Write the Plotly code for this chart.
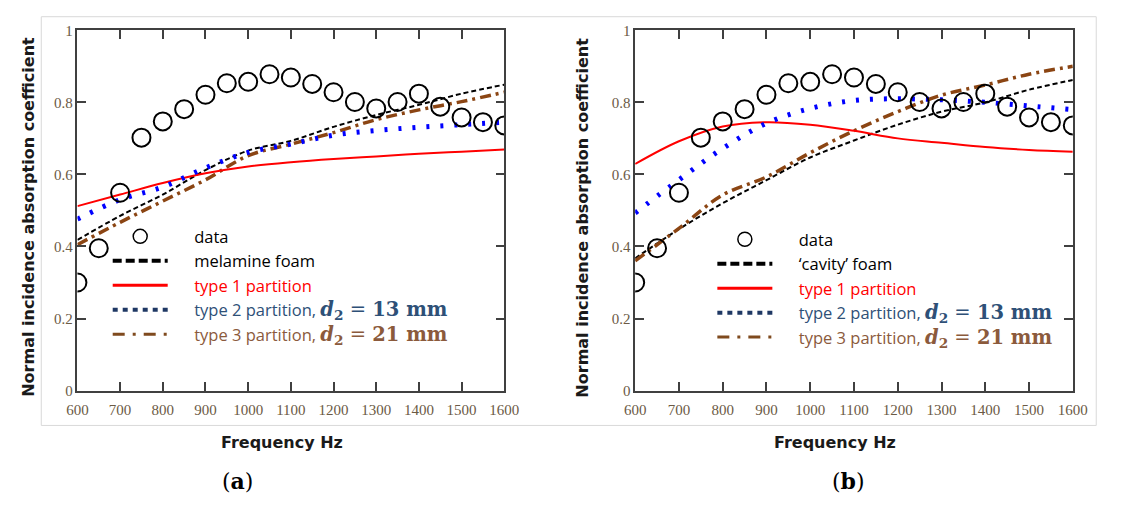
import plotly.graph_objects as go

W, H = 1121, 509

# measured data (both panels)
freq_data = [600, 650, 700, 750, 800, 850, 900, 950, 1000, 1050, 1100,
             1150, 1200, 1250, 1300, 1350, 1400, 1450, 1500, 1550, 1600]
alpha_data = [0.30, 0.395, 0.549, 0.702, 0.747, 0.781, 0.821, 0.853, 0.857, 0.878, 0.869,
              0.851, 0.828, 0.801, 0.783, 0.801, 0.824, 0.788, 0.758, 0.745, 0.736]

# model curves
freq_model = [600, 700, 800, 900, 1000, 1100, 1200, 1300, 1400, 1500, 1600]

a_foam = [0.418, 0.485, 0.544, 0.612, 0.666, 0.693, 0.732, 0.765, 0.793, 0.824, 0.849]
a_type1 = [0.512, 0.544, 0.576, 0.603, 0.622, 0.634, 0.643, 0.650, 0.657, 0.663, 0.669]
a_type2 = [0.476, 0.530, 0.565, 0.618, 0.661, 0.684, 0.709, 0.722, 0.731, 0.738, 0.745]
a_type3 = [0.405, 0.467, 0.526, 0.585, 0.652, 0.684, 0.716, 0.752, 0.779, 0.802, 0.828]

b_foam = [0.367, 0.448, 0.520, 0.584, 0.647, 0.694, 0.738, 0.774, 0.800, 0.835, 0.862]
b_type1 = [0.629, 0.692, 0.733, 0.745, 0.738, 0.721, 0.700, 0.688, 0.676, 0.668, 0.663]
b_type2 = [0.493, 0.585, 0.672, 0.742, 0.783, 0.805, 0.810, 0.807, 0.800, 0.790, 0.780]
b_type3 = [0.360, 0.450, 0.543, 0.593, 0.660, 0.721, 0.774, 0.820, 0.848, 0.878, 0.900]

x_ticks = [600, 700, 800, 900, 1000, 1100, 1200, 1300, 1400, 1500, 1600]
y_ticks = [0, 0.2, 0.4, 0.6, 0.8, 1]
y_ticktext = ["0", "0.2", "0.4", "0.6", "0.8", "1"]

labels_a = ["data", "melamine foam", "type 1 partition",
            "type 2 partition, ", "type 3 partition, "]
labels_b = ["data", "\u2018cavity\u2019 foam", "type 1 partition",
            "type 2 partition, ", "type 3 partition, "]
d2_values = ["13 mm", "21 mm"]

RED = "#ff0000"
BLUE = "#0000ff"
BROWN = "#8b4513"
NAVY_TXT = "#2e5077"
BROWN_TXT = "#8b5a3c"
LEG_NAVY = "#1f3864"
LEG_BROWN = "#7f4a1e"
PAD = "\u00a0" * 5


def math_part(val):
    return ("<span style=\"font-family:'DejaVu Serif';font-size:19.5px\"><b><i>d</i></b><b><sub>2</sub></b>"
            " = <b>" + val + "</b></span>")


fig = go.Figure()

panels = [
    ("x", "y", "legend", labels_a, a_foam, a_type1, a_type2, a_type3),
    ("x2", "y2", "legend2", labels_b, b_foam, b_type1, b_type2, b_type3),
]

for xa, ya, leg, labels, foam, t1, t2, t3 in panels:
    fig.add_trace(go.Scatter(x=freq_model, y=foam, mode="lines", xaxis=xa, yaxis=ya,
                             line=dict(color="black", width=2, dash="5px,3px", shape="spline"),
                             showlegend=False))
    fig.add_trace(go.Scatter(x=freq_model, y=t3, mode="lines", xaxis=xa, yaxis=ya,
                             line=dict(color=BROWN, width=3.5, dash="11px,5px,3px,5px", shape="spline"),
                             showlegend=False))
    fig.add_trace(go.Scatter(x=freq_model, y=t1, mode="lines", xaxis=xa, yaxis=ya,
                             line=dict(color=RED, width=2, shape="spline"),
                             showlegend=False))
    fig.add_trace(go.Scatter(x=freq_model, y=t2, mode="lines", xaxis=xa, yaxis=ya,
                             line=dict(color=BLUE, width=5, dash="3px,11px", shape="spline"),
                             showlegend=False))
    fig.add_trace(go.Scatter(x=freq_data, y=alpha_data, mode="markers", xaxis=xa, yaxis=ya,
                             marker=dict(symbol="circle-open", size=18, color="black",
                                         line=dict(width=2, color="black")),
                             showlegend=False))
    # legend entries
    fig.add_trace(go.Scatter(x=[None], y=[None], mode="markers", xaxis=xa, yaxis=ya,
                             marker=dict(symbol="circle-open", size=14, color="black",
                                         line=dict(width=1.5, color="black")),
                             name=PAD + labels[0], legend=leg))
    fig.add_trace(go.Scatter(x=[None], y=[None], mode="lines", xaxis=xa, yaxis=ya,
                             line=dict(color="black", width=4, dash="9px,4px"),
                             name=PAD + labels[1], legend=leg))
    fig.add_trace(go.Scatter(x=[None], y=[None], mode="lines", xaxis=xa, yaxis=ya,
                             line=dict(color=RED, width=3),
                             name=PAD + "<span style='color:%s'>%s</span>" % (RED, labels[2]),
                             legend=leg))
    fig.add_trace(go.Scatter(x=[None], y=[None], mode="lines", xaxis=xa, yaxis=ya,
                             line=dict(color=LEG_NAVY, width=4, dash="5px,5px"),
                             name=PAD + "<span style='color:%s'>%s%s</span>"
                             % (NAVY_TXT, labels[3], math_part(d2_values[0])),
                             legend=leg))
    fig.add_trace(go.Scatter(x=[None], y=[None], mode="lines", xaxis=xa, yaxis=ya,
                             line=dict(color=LEG_BROWN, width=3, dash="12px,8px,3px,8px"),
                             name=PAD + "<span style='color:%s'>%s%s</span>"
                             % (BROWN_TXT, labels[4], math_part(d2_values[1])),
                             legend=leg))

tickfont = dict(family="Liberation Serif", size=15, color="#6b5a45")
axis_common = dict(showgrid=False, zeroline=False, showline=True,
                   linecolor="#404040", linewidth=1.5, mirror="ticks",
                   ticks="inside", ticklen=9, tickwidth=1.5, tickcolor="#404040",
                   tickfont=tickfont)


def xaxis(domain):
    d = dict(axis_common)
    d.update(domain=domain, range=[600, 1600], tickmode="array", tickvals=x_ticks,
             ticklabelstandoff=5)
    return d


def yaxis(domain, anchor):
    d = dict(axis_common)
    d.update(domain=domain, range=[0, 1], tickmode="array", tickvals=y_ticks,
             ticktext=y_ticktext, anchor=anchor)
    return d


ydom = [1 - 395 / H, 1 - 23 / H]

leg_common = dict(bgcolor="rgba(0,0,0,0)", borderwidth=0, itemwidth=55,
                  font=dict(family="Open Sans", size=16.5, color="black"),
                  xanchor="left", yanchor="top", itemclick=False, itemdoubleclick=False)

fig.update_layout(
    width=W, height=H,
    margin=dict(l=0, r=0, t=0, b=0),
    paper_bgcolor="white", plot_bgcolor="white",
    xaxis=dict(xaxis([68 / W, 505 / W]), anchor="y"),
    yaxis=yaxis(ydom, "x"),
    xaxis2=dict(xaxis([639 / W, 1087 / W]), anchor="y2"),
    yaxis2=yaxis(ydom, "x2"),
    legend=dict(leg_common, x=99 / W, y=1 - 218 / H),
    legend2=dict(leg_common, x=718 / W, y=1 - 221 / H),
    showlegend=True,
)

# outer light frame
fig.add_shape(type="rect", xref="paper", yref="paper",
              x0=31 / W, x1=1111 / W, y0=1 - 431 / H, y1=1 - 9 / H,
              line=dict(color="#d9d9d9", width=1), layer="below")

ytitle_font = dict(family="DejaVu Sans", size=16, color="#1a1a1a", weight="bold")
xtitle_font = dict(family="DejaVu Sans", size=16, color="#1a1a1a", weight="bold")
ytitle = "Normal incidence absorption coefficient"
for xp in (18, 585):
    fig.add_annotation(x=xp / W, y=1 - 216 / H, xref="paper", yref="paper",
                       text=ytitle, textangle=-90, showarrow=False, font=ytitle_font,
                       xanchor="center", yanchor="middle")
for xp in (277, 844):
    fig.add_annotation(x=xp / W, y=1 - 449 / H, xref="paper", yref="paper",
                       text="Frequency Hz", showarrow=False, font=xtitle_font,
                       xanchor="center", yanchor="middle")
for xp, lab in ((232, "a"), (857, "b")):
    fig.add_annotation(x=xp / W, y=1 - 488 / H, xref="paper", yref="paper",
                       text="(<b>%s</b>)" % lab, showarrow=False,
                       font=dict(family="DejaVu Serif", size=22, color="black"),
                       xanchor="center", yanchor="middle")

fig.write_html("out.html",
               post_script="document.body.style.margin='0';document.body.style.overflow='hidden';")
